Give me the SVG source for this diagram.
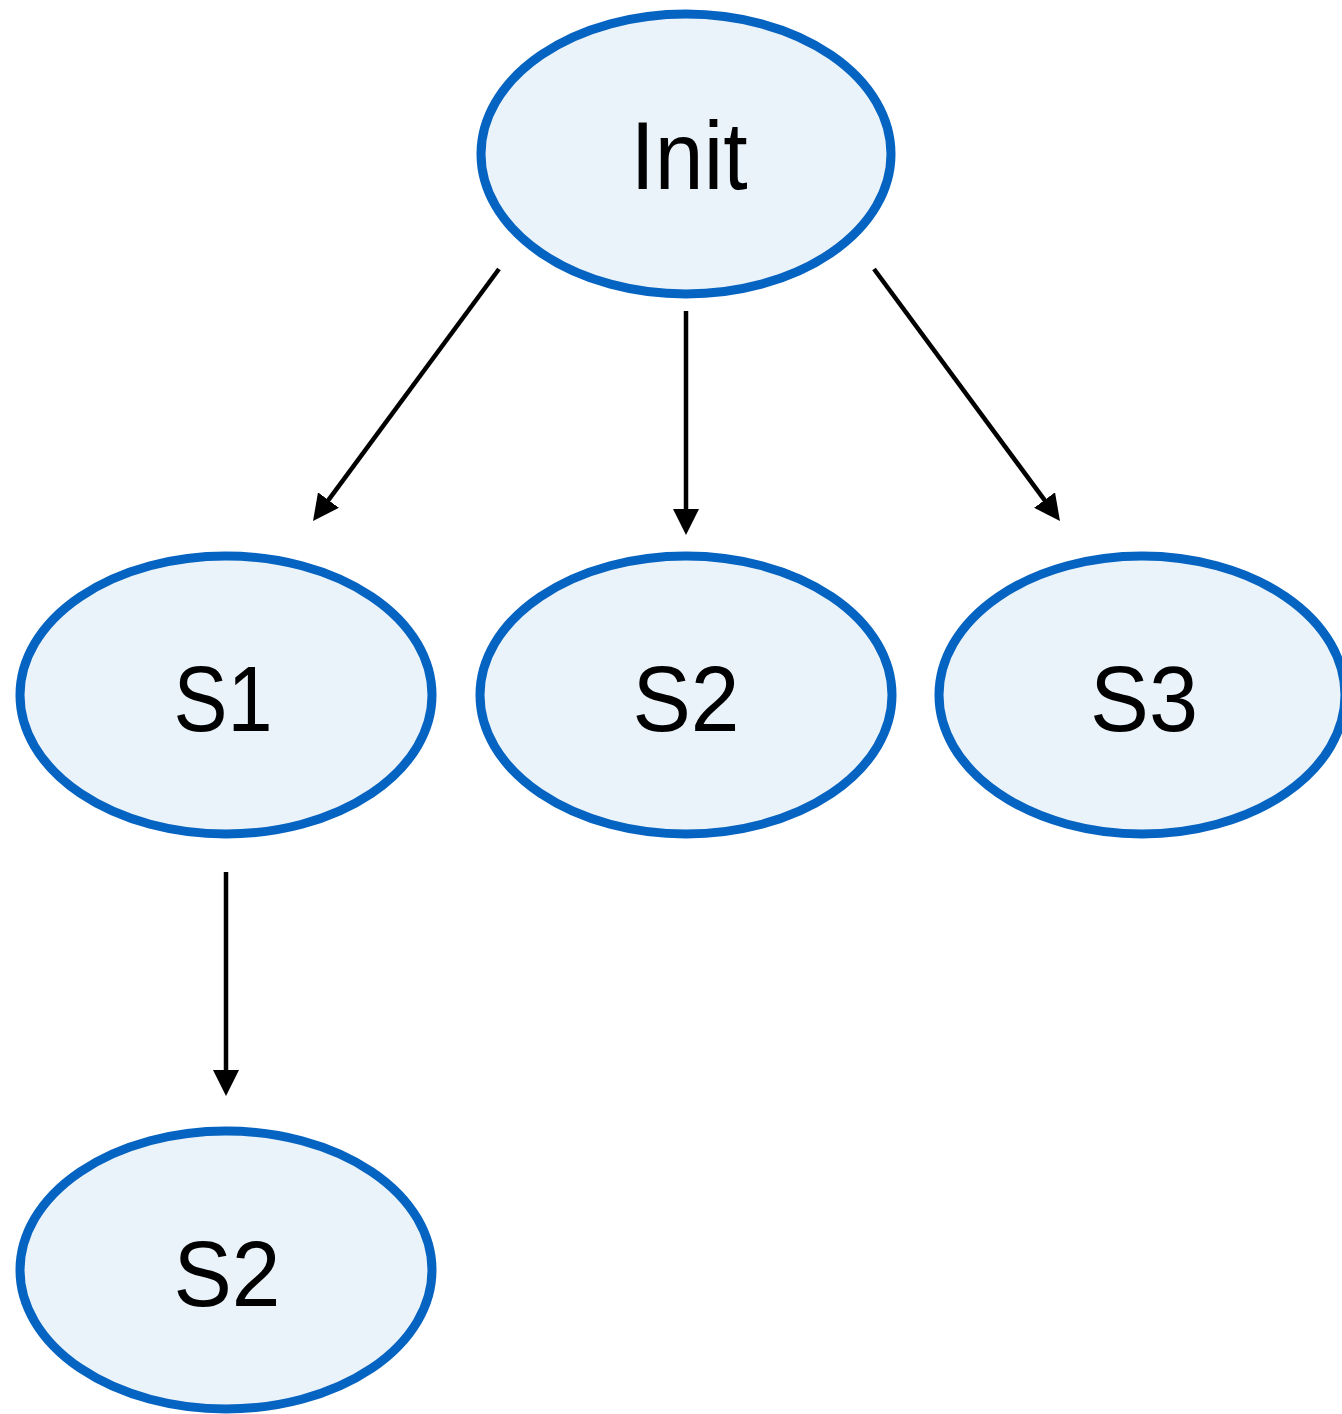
<svg xmlns="http://www.w3.org/2000/svg" width="1342" height="1414" viewBox="0 0 1342 1414">
  <defs>
    <marker id="arr" viewBox="0 0 26 26" refX="6" refY="13" markerWidth="26" markerHeight="26" markerUnits="userSpaceOnUse" orient="auto">
      <path d="M0,0 L26,13 L0,26 Z" fill="#000"/>
    </marker>
  </defs>
  <style>
    .node ellipse { fill: #EBF3FA; stroke: #0563C1; stroke-width: 9; }
    .node text { font-family: "Liberation Sans", Arial, sans-serif; fill: #000; text-anchor: middle; }
    .edge { stroke: #000; stroke-width: 4.5; fill: none; marker-end: url(#arr); }
  </style>
  <rect width="1342" height="1414" fill="#fff"/>
  <g id="connectors">
    <line class="edge" x1="499" y1="269" x2="324.9" y2="504.9"/>
    <line class="edge" x1="686" y1="311" x2="686" y2="515"/>
    <line class="edge" x1="874" y1="269" x2="1048.1" y2="504.9"/>
    <line class="edge" x1="226" y1="872" x2="226" y2="1076"/>
  </g>
  <g id="init" class="node">
    <ellipse cx="686" cy="154" rx="205" ry="140"/>
    <text x="689" y="189" font-size="97" textLength="117" lengthAdjust="spacingAndGlyphs">Init</text>
  </g>
  <g id="s1" class="node">
    <ellipse cx="226" cy="695" rx="206" ry="139"/>
    <text x="223" y="731" font-size="92" textLength="99" lengthAdjust="spacingAndGlyphs">S1</text>
  </g>
  <g id="s2" class="node">
    <ellipse cx="686" cy="695" rx="206" ry="139"/>
    <text x="686" y="731" font-size="92" textLength="107" lengthAdjust="spacingAndGlyphs">S2</text>
  </g>
  <g id="s3" class="node">
    <ellipse cx="1142" cy="695" rx="203" ry="139"/>
    <text x="1144" y="731" font-size="92" textLength="108" lengthAdjust="spacingAndGlyphs">S3</text>
  </g>
  <g id="s2b" class="node">
    <ellipse cx="226" cy="1270" rx="206" ry="139"/>
    <text x="227" y="1306" font-size="92" textLength="107" lengthAdjust="spacingAndGlyphs">S2</text>
  </g>
</svg>
